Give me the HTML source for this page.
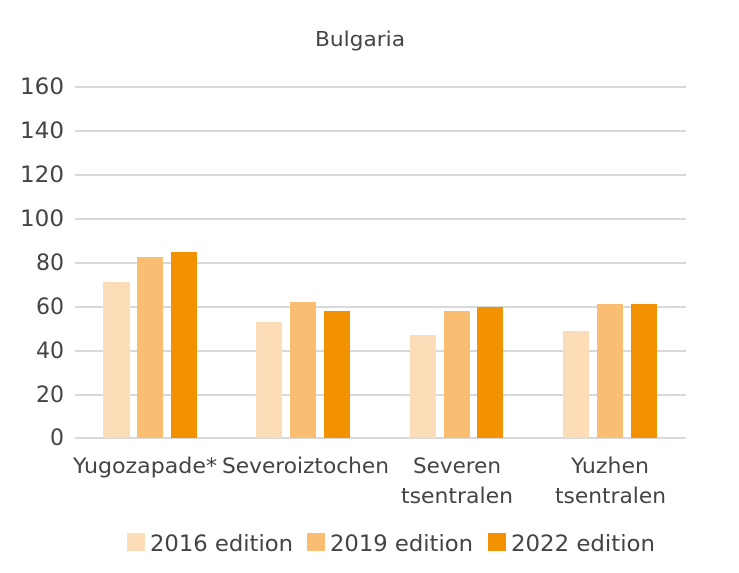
<!DOCTYPE html>
<html><head><style>body{margin:0;background:#fff}</style></head><body>
<svg width="739" height="568" xmlns="http://www.w3.org/2000/svg" font-family="DejaVu Sans, Liberation Sans, sans-serif">
<rect width="739" height="568" fill="#fff"/>
<text x="360" y="46" font-size="20" fill="#444" text-anchor="middle" textLength="90" lengthAdjust="spacingAndGlyphs">Bulgaria</text>
<g stroke="#d9d9d9" stroke-width="2">
<line x1="75" x2="686" y1="87" y2="87"/><line x1="75" x2="686" y1="131" y2="131"/>
<line x1="75" x2="686" y1="175" y2="175"/><line x1="75" x2="686" y1="219" y2="219"/>
<line x1="75" x2="686" y1="263" y2="263"/><line x1="75" x2="686" y1="307" y2="307"/>
<line x1="75" x2="686" y1="351" y2="351"/><line x1="75" x2="686" y1="395" y2="395"/>
<line x1="75" x2="686" y1="438" y2="438"/></g>
<g font-size="22" fill="#444" text-anchor="end">
<text x="64" y="94" textLength="44" lengthAdjust="spacingAndGlyphs">160</text><text x="64" y="138" textLength="44" lengthAdjust="spacingAndGlyphs">140</text><text x="64" y="182" textLength="44" lengthAdjust="spacingAndGlyphs">120</text>
<text x="64" y="226" textLength="44" lengthAdjust="spacingAndGlyphs">100</text><text x="64" y="270">80</text><text x="64" y="314">60</text>
<text x="64" y="358">40</text><text x="64" y="402">20</text><text x="64" y="445">0</text></g>
<g>
<rect x="103" y="282" width="27" height="156" fill="#FDDDB7"/>
<rect x="137" y="257" width="26" height="181" fill="#F9BE72"/>
<rect x="171" y="252" width="26" height="186" fill="#F39200"/>
<rect x="256" y="322" width="26" height="116" fill="#FDDDB7"/>
<rect x="290" y="302" width="26" height="136" fill="#F9BE72"/>
<rect x="324" y="311" width="26" height="127" fill="#F39200"/>
<rect x="410" y="335" width="26" height="103" fill="#FDDDB7"/>
<rect x="444" y="311" width="26" height="127" fill="#F9BE72"/>
<rect x="477" y="307" width="26" height="131" fill="#F39200"/>
<rect x="563" y="331" width="26" height="107" fill="#FDDDB7"/>
<rect x="597" y="304" width="26" height="134" fill="#F9BE72"/>
<rect x="631" y="304" width="26" height="134" fill="#F39200"/>
</g>
<g font-size="21" fill="#444" lengthAdjust="spacingAndGlyphs">
<text x="73" y="473" textLength="144" lengthAdjust="spacingAndGlyphs">Yugozapade*</text>
<text x="222" y="473" textLength="167" lengthAdjust="spacingAndGlyphs">Severoiztochen</text>
<text x="413" y="473" textLength="88" lengthAdjust="spacingAndGlyphs">Severen</text><text x="401" y="503" textLength="112" lengthAdjust="spacingAndGlyphs">tsentralen</text>
<text x="571" y="473" textLength="78" lengthAdjust="spacingAndGlyphs">Yuzhen</text><text x="555" y="503" textLength="111" lengthAdjust="spacingAndGlyphs">tsentralen</text>
</g>
<g font-size="22" fill="#444">
<rect x="127" y="533" width="18" height="18" fill="#FDDDB7"/><text x="150" y="551" textLength="143" lengthAdjust="spacingAndGlyphs">2016 edition</text>
<rect x="307" y="533" width="18" height="18" fill="#F9BE72"/><text x="330" y="551" textLength="143" lengthAdjust="spacingAndGlyphs">2019 edition</text>
<rect x="488" y="533" width="18" height="18" fill="#F39200"/><text x="511" y="551" textLength="144" lengthAdjust="spacingAndGlyphs">2022 edition</text>
</g>
</svg>
</body></html>
